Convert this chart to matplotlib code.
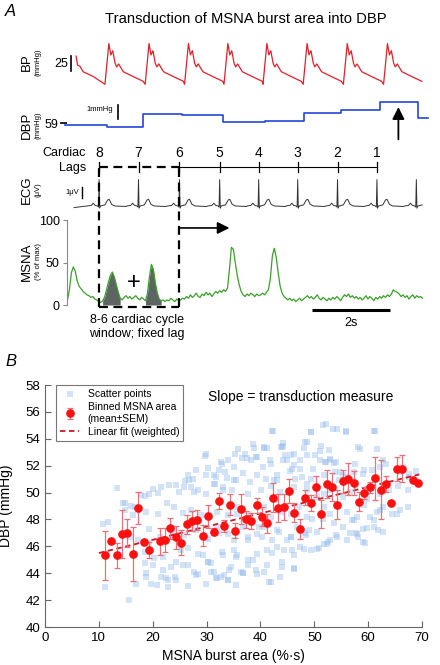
import numpy as np
import matplotlib
matplotlib.use('Agg')
import matplotlib.pyplot as plt

plt.rcParams['font.family'] = ['Liberation Sans', 'DejaVu Sans']


# PANEL A: example recording (time in seconds) -
t_end = 9.31

# R waves = cardiac lags 8..1 (plus one extra beat)
r_times = [0.83, 1.84, 2.89, 3.92, 4.92, 5.92, 6.94, 7.95, 8.96]
lag_labels = ['8', '7', '6', '5', '4', '3', '2', '1']

# ECG shape around every R wave (s from R, uV)
ecg_dt = [-0.30, -0.20, -0.15, -0.10, -0.04, -0.015, 0.0, 0.015, 0.04, 0.15, 0.22, 0.26, 0.32, 0.40, 0.69]
ecg_uv = [0.0, 0.05, 0.25, 0.05, 0.0, -0.1, 2.4, -0.2, 0.0, 0.1, 0.55, 0.6, 0.15, 0.0, -0.05]
ecg_lead_t = [0.19, 0.40]
ecg_lead_v = [-0.15, -0.05]
ecg_stop = 9.13

# arterial pressure: beat onsets and one beat shape (s from onset, mmHg)
bp_onsets = [0.98, 2.01, 3.02, 4.03, 5.03, 6.06, 7.09, 8.12]
bp_dt = [0.0, 0.10, 0.15, 0.20, 0.26, 0.30, 0.35, 0.47, 0.72, 0.98]
bp_mmhg = [59, 127, 108, 115, 94, 88, 93, 80, 72, 64]
bp_lead_t = [0.24, 0.28, 0.34, 0.42, 0.68]
bp_lead_v = [106, 91, 89, 80, 72]

# beat-by-beat diastolic pressure
dbp_edges = [-0.04, 1.03, 1.96, 2.95, 4.0, 5.08, 6.09, 7.02, 8.03, 9.01, 9.27]
dbp_vals = [58.88, 58.74, 59.64, 59.59, 59.09, 59.16, 59.71, 59.95, 60.54, 59.4]

# integrated MSNA (% of max), one value every 0.05 s from t = 0.02 s
msna_t0 = 0.02
msna_step = 0.05
msna = [6, 18, 38, 45, 40, 28, 22, 19, 16, 14,
        12, 11, 9, 10, 7, 6, 4, 3, 5, 9,
        18, 27, 35, 39, 33, 24, 15, 8, 6, 9,
        11, 8, 10, 7, 9, 11, 8, 6, 9, 7,
        5, 14, 33, 48, 42, 26, 14, 7, 5, 6,
        4, 6, 5, 8, 6, 4, 7, 5, 6, 8,
        7, 10, 8, 12, 9, 11, 14, 10, 9, 13,
        11, 15, 12, 14, 10, 13, 16, 14, 17, 15,
        18, 16, 20, 42, 68, 66, 50, 35, 24, 16,
        12, 10, 13, 11, 14, 12, 10, 13, 11, 12,
        14, 12, 15, 18, 32, 58, 67, 56, 38, 22,
        14, 10, 8, 6, 8, 5, 7, 4, 6, 8,
        5, 7, 9, 11, 8, 10, 7, 9, 12, 8,
        6, 9, 7, 5, 8, 6, 9, 7, 10, 8,
        5, 9, 12, 10, 13, 9, 11, 8, 10, 7,
        9, 6, 8, 11, 7, 10, 8, 5, 9, 7,
        10, 8, 11, 9, 12, 10, 13, 18, 16, 15,
        13, 10, 12, 9, 11, 7, 10, 12, 8, 11,
        9, 10, 8]
burst_windows = [(0.90, 1.42), (1.98, 2.45)]


# PANEL B: DBP vs MSNA burst area -
scatter_x = [52.1, 54.2, 49.3, 42.4, 61.2, 55.9, 44.2, 48.7, 38.8, 40.7, 51.1, 44.05, 48.05,
             29.9, 32.9, 33.9, 35.3, 37.5, 39.4, 40.5, 42.0, 44.2, 45.6, 46.3, 47.4, 51.1, 52.2, 53.0, 54.1, 57.5, 60.7, 62.2, 63.4,
             26.0, 26.5, 27.4, 28.1, 30.2, 31.7, 33.4, 35.1, 36.7, 38.1, 39.3, 41.0, 43.1, 43.1, 45.5, 46.5, 48.7, 49.3, 51.75, 54.5, 55.4, 59.3, 67.6, 68.9,
             13.3, 17.8, 19.4, 20.0, 21.6, 23.1, 24.8, 27.1, 28.35, 29.9, 31.3, 33.0, 34.8, 37.6, 40.05, 41.9, 43.7, 46.2, 48.7, 50.5, 51.75, 53.0, 55.4, 56.7, 59.75, 62.2, 63.8, 65.6, 67.4,
             11.7, 14.8, 16.65, 18.8, 21.0, 24.0, 25.6, 27.1, 28.97, 32.0, 33.9, 35.7, 37.9, 40.7, 41.9, 44.05, 45.6, 47.1, 48.7, 51.75, 53.0, 56.1, 57.9, 59.3, 61.6, 62.8, 64.4, 65.9, 67.4,
             10.8, 15.7, 17.27, 19.4, 21.3, 24.0, 25.9, 28.0, 30.2, 32.0, 33.9, 35.1, 36.7, 37.6, 39.4, 40.7, 42.2, 43.1, 45.6, 46.8, 48.4, 50.5, 51.75, 54.2, 55.4, 57.3, 57.9, 59.1, 61.0, 62.8,
             16.65, 18.5, 20.0, 21.9, 23.4, 25.3, 26.5, 28.35, 30.2, 30.8, 32.8, 34.5, 35.7, 37.6, 39.4, 41.3, 43.1, 44.05, 45.9, 46.2, 48.05, 50.5, 52.4,
             11.1, 15.6, 16.96, 18.8, 19.7, 21.45, 22.8, 24.35, 26.5, 28.35, 29.9, 31.7, 33.9, 36.7, 35.4, 41.9, 43.7,
             14.9, 16.0, 18.5, 21.0, 22.7, 24.3, 25.8, 26.8, 27.6, 29.7, 29.9, 31.4, 31.5,
             32.3, 32.6, 33.1, 33.75, 35.1, 35.4, 35.85, 36.5, 37.1, 38.3, 38.7, 39.1, 40.65,
             41.3, 41.75, 42.2, 42.5, 43.9, 44.2, 44.5, 45.0, 45.9, 46.2, 47.3, 47.7, 48.3,
             48.6, 49.4, 49.75, 50.2, 51.2, 51.7, 52.0, 52.65, 52.95, 53.45, 53.6, 53.9, 54.8,
             55.85, 56.3, 57.3, 58.1, 58.5, 59.1, 61.1, 61.6, 62.8, 63.4, 65.9, 66.5, 67.6,
             14.5, 16.3, 18.5, 18.7, 19.4, 20.3, 20.8, 21.9, 22.5, 22.8, 24.2, 24.3, 25.6,
             26.5, 27.7, 28.1, 29.3, 29.9, 30.3, 30.8, 31.4, 31.9, 32.3, 32.6, 33.1, 33.3,
             33.9, 34.2, 35.1, 35.4, 35.7, 36.3, 36.8, 37.6, 37.7, 38.6, 39.1, 39.3, 39.7,
             40.3, 40.6, 41.3, 41.6, 42.2, 43.4, 44.0, 44.3, 45.0, 45.6, 46.2, 46.3, 46.8,
             47.4, 48.3, 48.95, 49.3, 49.6, 50.8, 51.7, 52.6, 52.95, 53.6, 54.1, 56.0, 56.6,
             56.95, 57.75, 58.2, 59.1, 59.4, 59.7, 60.3, 61.0, 61.9, 62.2, 65.3]
scatter_y = [55.07, 54.7, 54.52, 54.57, 54.57, 54.52, 53.7, 53.77, 53.28, 53.33, 53.1, 53.4, 53.28,
             52.86, 52.16, 52.41, 52.9, 52.6, 52.66, 51.91, 52.16, 52.41, 52.78, 52.04, 52.41, 52.41, 52.29, 52.53, 52.29, 52.16, 51.66, 51.91, 52.16,
             50.87, 51.29, 51.04, 51.66, 51.79, 51.17, 51.54, 50.92, 51.42, 50.79, 51.29, 51.04, 51.29, 50.92, 51.61, 51.04, 50.67, 51.04, 51.29, 50.92, 51.29, 51.66, 51.17, 51.61,
             50.37, 49.8, 49.92, 50.3, 50.42, 50.55, 50.05, 50.42, 50.17, 49.92, 50.62, 50.17, 50.17, 49.92, 50.17, 50.47, 50.05, 50.42, 50.17, 49.68, 49.92, 50.17, 49.68, 50.05, 49.55, 49.92, 50.17, 50.47, 50.22,
             47.81, 48.68, 48.93, 48.56, 48.43, 48.93, 48.48, 48.68, 48.31, 48.56, 48.31, 48.93, 48.43, 48.93, 48.19, 48.56, 48.43, 48.93, 48.19, 48.93, 48.43, 48.56, 48.19, 49.06, 48.56, 48.93, 48.43, 48.68, 48.93,
             47.69, 46.7, 46.45, 47.32, 46.7, 47.07, 46.82, 47.19, 46.57, 47.44, 46.94, 46.45, 47.44, 46.7, 46.94, 47.44, 46.45, 47.19, 46.7, 47.44, 46.82, 47.07, 46.2, 46.7, 47.44, 47.94, 46.94, 47.32, 47.94, 47.07,
             45.45, 45.58, 44.59, 45.21, 44.46, 45.7, 44.59, 45.45, 44.83, 44.09, 45.58, 44.46, 45.33, 44.96, 45.45, 44.59, 45.95, 44.46, 45.7, 44.34, 45.83, 45.83, 46.2,
             42.97, 42.03, 43.17, 43.72, 43.22, 43.72, 43.47, 43.47, 43.02, 43.96, 43.22, 43.67, 43.47, 44.01, 43.1, 43.34, 43.72,
             49.19, 48.99, 49.73, 49.98, 49.19, 50.54, 50.42, 50.91, 50.05, 52.74, 51.28, 51.28, 50.67,
             51.7, 52.27, 50.42, 51.11, 51.9, 50.91, 53.26, 52.59, 52.89, 52.4, 53.63, 52.64, 53.38,
             53.31, 52.4, 54.57, 50.91, 53.38, 53.5, 52.77, 52.4, 51.78, 52.89, 51.78, 51.16, 53.75,
             52.77, 54.49, 51.78, 52.77, 53.43, 54.99, 52.27, 53.14, 52.44, 54.74, 52.2, 51.53, 51.53,
             54.57, 51.16, 51.53, 53.38, 53.26, 51.41, 54.57, 53.26, 52.4, 50.62, 51.53, 51.9, 51.41,
             49.19, 48.32, 44.74, 44.0, 46.22, 45.11, 43.14, 44.25, 43.63, 43.01, 43.75, 44.86, 44.62,
             45.85, 44.12, 43.88, 45.36, 46.59, 44.86, 44.74, 44.12, 43.63, 46.96, 43.75, 45.36, 43.88,
             43.51, 44.25, 45.73, 45.23, 48.44, 44.12, 44.05, 44.62, 46.47, 44.99, 44.25, 43.95, 47.46,
             46.72, 44.12, 45.73, 43.31, 45.48, 47.09, 44.86, 45.73, 46.47, 46.72, 44.37, 45.36, 48.44,
             45.98, 46.96, 47.21, 45.73, 48.07, 45.85, 48.07, 46.35, 46.47, 47.7, 46.84, 46.47, 46.96,
             47.95, 46.96, 46.72, 46.35, 46.22, 47.33, 48.2, 47.46, 47.21, 48.69, 48.44]

bin_x = [11.2, 12.3, 13.3, 14.3, 15.3, 16.3, 17.3, 18.3, 19.3, 21.3, 22.3, 23.3, 24.3, 25.3,
         26.3, 27.3, 28.3, 29.3, 30.3, 31.3, 32.3, 33.3, 34.3, 35.3, 36.3, 37.3, 38.3, 39.3,
         40.3, 41.3, 42.3, 43.3, 44.3, 45.3, 46.3, 47.3, 48.3, 49.3, 50.3, 51.3, 52.3, 53.3,
         54.3, 55.3, 56.3, 57.3, 58.3, 59.3, 60.3, 61.3, 62.3, 63.3, 64.3, 65.3, 66.3, 68.3, 69.3]
bin_y = [45.33, 46.42, 45.33, 46.9, 47.0, 45.45, 48.86, 46.35, 45.73, 46.37, 46.47, 47.33, 46.67, 46.27,
         47.65, 47.9, 47.95, 46.8, 48.25, 47.1, 49.4, 47.53, 49.1, 47.16, 48.77, 48.0, 47.9, 49.06,
         48.2, 47.7, 49.63, 48.86, 48.94, 50.1, 48.5, 47.3, 49.63, 49.25, 50.44, 48.42, 50.64, 50.4,
         49.1, 50.84, 50.99, 50.72, 49.33, 50.0, 50.4, 51.06, 50.2, 50.64, 49.26, 51.78, 51.78, 50.94, 50.7]
bin_sem = [1.8, 0.15, 0.95, 1.8, 1.05, 2.0, 1.2, 0.2, 0.6, 1.0, 0.9, 0.8, 0.85, 0.95,
           0.7, 0.75, 0.75, 0.8, 0.85, 0.25, 0.6, 0.45, 0.8, 0.55, 1.1, 0.6, 0.6, 0.55,
           0.7, 0.7, 1.1, 1.05, 0.95, 0.9, 0.7, 0.75, 0.55, 0.6, 0.8, 1.05, 1.05, 1.05,
           1.1, 0.85, 1.2, 0.9, 0.7, 0.45, 0.4, 1.6, 2.2, 0.6, 0.0, 0.9, 1.0, 0.0, 0.0]

fit_x = [10.0, 69.5]
fit_y = [45.5, 51.35]


# Figure layout helper: pixel box of the 440x665 picture -> figure rect
def box(x0, y0, x1, y1):
    return [x0 / 440, 1 - y1 / 665, (x1 - x0) / 440, (y1 - y0) / 665]


fig = plt.figure(figsize=(4.4, 6.65), dpi=100)

fig.text(0.012, 1 - 11 / 665, 'A', style='italic', fontsize=12, va='center')
fig.text(0.558, 1 - 19 / 665, 'Transduction of MSNA burst area into DBP', fontsize=10.6, ha='center', va='center')

# side labels of the traces
for name, unit, yc in [('BP', '(mmHg)', 62), ('DBP', '(mmHg)', 125),
                       ('ECG', '(\u03bcV)', 190), ('MSNA', '(% of max)', 262)]:
    fig.text(27 / 440, 1 - yc / 665, name, rotation=90, fontsize=9.5, ha='center', va='center')
    fig.text(38 / 440, 1 - yc / 665, unit, rotation=90, fontsize=5.5, ha='center', va='center')
fig.text(86 / 440, 1 - 153 / 665, 'Cardiac', fontsize=9, ha='right', va='center')
fig.text(86 / 440, 1 - 168 / 665, 'Lags', fontsize=9, ha='right', va='center')

# BP trace
ax_bp = fig.add_axes(box(66.7, 35, 430, 90))
bp_t = list(bp_lead_t)
bp_v = list(bp_lead_v)
for t0 in bp_onsets:
    bp_t += [t0 + d for d in bp_dt]
    bp_v += bp_mmhg
ax_bp.plot(bp_t, bp_v, color='#e0202c', lw=0.9)
ax_bp.plot([0.11, 0.11], [81, 106], color='black', lw=1.2, clip_on=False)
ax_bp.text(0.04, 93, '25', fontsize=9, ha='right', va='center')
ax_bp.set_xlim(0, t_end)
ax_bp.set_ylim(49.5, 141.2)
ax_bp.axis('off')

# DBP steps
ax_dbp = fig.add_axes(box(66.7, 95, 430, 135))
ax_dbp.step(dbp_edges, dbp_vals + [dbp_vals[-1]], where='post', color='#2048d8', lw=1.2, clip_on=False)
ax_dbp.plot([1.32, 1.32], [59.3, 60.3], color='black', lw=1.2)
ax_dbp.text(0.85, 59.95, '1mmHg', fontsize=5.5, ha='center', va='center')
ax_dbp.annotate('', xy=(8.5, 60.16), xytext=(8.5, 57.85), annotation_clip=False,
                arrowprops=dict(arrowstyle='-|>', color='black', lw=1.3, mutation_scale=18,
                                shrinkA=0, shrinkB=0))
ax_dbp.set_xlim(0, t_end)
ax_dbp.set_ylim(58.16, 61.02)
for s in ax_dbp.spines.values():
    s.set_visible(False)
ax_dbp.set_xticks([])
ax_dbp.set_yticks([59])
ax_dbp.tick_params(axis='y', length=5, width=1.2, pad=1, labelsize=9)
ax_dbp.patch.set_visible(False)

# ECG trace
ax_ecg = fig.add_axes(box(66.7, 175, 430, 212))
ecg_t = list(ecg_lead_t)
ecg_v = list(ecg_lead_v)
for r in r_times:
    for d, v in zip(ecg_dt, ecg_uv):
        if r + d <= ecg_stop:
            ecg_t.append(r + d)
            ecg_v.append(v)
ax_ecg.plot(ecg_t, ecg_v, color='#333333', lw=0.7)
ax_ecg.plot([0.385, 0.385], [0.7, 1.7], color='black', lw=1.0)
ax_ecg.text(0.32, 1.2, '1\u03bcV', fontsize=5.5, ha='right', va='center')
ax_ecg.set_xlim(0, t_end)
ax_ecg.set_ylim(-0.55, 2.82)
ax_ecg.axis('off')

# MSNA trace
ax_ms = fig.add_axes(box(66.7, 215, 430, 308))
ms_t = msna_t0 + msna_step * np.arange(len(msna))
ms_v = np.array(msna, dtype=float)
for a, b in burst_windows:
    sel = (ms_t >= a) & (ms_t <= b)
    ax_ms.fill_between(ms_t[sel], 0, ms_v[sel], color='#5c6562', lw=0)
ax_ms.plot(ms_t, ms_v, color='#3aa02a', lw=0.9)
ax_ms.set_xlim(0, t_end)
ax_ms.set_ylim(-3.54, 106.3)
for s in ['top', 'right', 'bottom']:
    ax_ms.spines[s].set_visible(False)
ax_ms.spines['left'].set_bounds(0, 100)
ax_ms.spines['left'].set_color('#888888')
ax_ms.set_xticks([])
ax_ms.set_yticks([0, 50, 100])
ax_ms.tick_params(axis='y', length=3, color='#888888', pad=2, labelsize=9)
ax_ms.patch.set_visible(False)

# cardiac lag ruler, fixed-lag window and annotations (MSNA units, drawn off the axes)
lag_y = 163.3
ax_ms.plot([r_times[2], r_times[7]], [lag_y, lag_y], color='black', lw=0.8, clip_on=False)
for r, lab in zip(r_times[:8], lag_labels):
    ax_ms.plot([r, r], [157, 169], color='black', lw=0.9, clip_on=False)
    ax_ms.text(r, 180, lab, fontsize=10, ha='center', va='center')
win_l, win_r = r_times[0], r_times[2]
dash = dict(color='black', lw=1.6, ls=(0, (4, 2.5)), clip_on=False)
ax_ms.plot([win_l, win_r], [lag_y, lag_y], **dash)
ax_ms.plot([win_l, win_r], [-2, -2], **dash)
ax_ms.plot([win_l, win_l], [-2, lag_y], **dash)
ax_ms.plot([win_r, win_r], [-2, lag_y], **dash)
ax_ms.text(1.73, 26, '+', fontsize=17, ha='center', va='center')
ax_ms.annotate('', xy=(4.17, 91), xytext=(win_r, 91), annotation_clip=False,
               arrowprops=dict(arrowstyle='-|>', color='black', lw=1.2, mutation_scale=18,
                               shrinkA=0, shrinkB=0))
ax_ms.text(1.8, -10.5, '8-6 cardiac cycle\nwindow; fixed lag', fontsize=9, ha='center', va='top',
           linespacing=1.25)
ax_ms.plot([6.29, 8.29], [-5.9, -5.9], color='black', lw=2.2, clip_on=False, solid_capstyle='butt')
ax_ms.text(7.29, -21, '2s', fontsize=9, ha='center', va='center')

# PANEL B
fig.text(0.012, 1 - 362 / 665, 'B', style='italic', fontsize=12, va='center')
axb = fig.add_axes(box(45, 385, 422, 627))
sc = axb.scatter(scatter_x, scatter_y, marker='s', s=15, color='#9dc0ee', alpha=0.45,
                 linewidths=0, label='Scatter points', zorder=1)
fit_line, = axb.plot(fit_x, fit_y, color='#d01828', lw=1.3, dashes=(3, 2),
                     label='Linear fit (weighted)', zorder=2)
eb = axb.errorbar(bin_x, bin_y, yerr=bin_sem, fmt='o', color='#ff1010', ms=5.2,
                  ecolor='#e8707a', elinewidth=0.9, capsize=2.5, capthick=0.9,
                  label='Binned MSNA area\n(mean\u00b1SEM)', zorder=3)
axb.set_xlim(0, 70)
axb.set_ylim(40, 58)
axb.set_xticks(range(0, 71, 10))
axb.set_yticks(range(40, 59, 2))
for s in ['top', 'right']:
    axb.spines[s].set_visible(False)
for s in ['left', 'bottom']:
    axb.spines[s].set_color('#666666')
axb.tick_params(direction='in', length=4, color='#666666', labelsize=9.5)
axb.set_xlabel('MSNA burst area (%\u00b7s)', fontsize=10)
axb.set_ylabel('DBP (mmHg)', fontsize=10)
axb.yaxis.set_label_coords(-0.085, 0.5)
axb.text(47.5, 57.1, 'Slope = transduction measure', fontsize=10, ha='center', va='center')
leg = axb.legend(handles=[sc, eb, fit_line], loc='upper left', bbox_to_anchor=(0.03, 1.0),
                 borderaxespad=0, fontsize=7.5, fancybox=False, edgecolor='#777777',
                 framealpha=1, handlelength=1.8, scatterpoints=1, labelspacing=0.3)
leg.get_frame().set_linewidth(0.8)

fig.savefig('out.png', dpi=100)
